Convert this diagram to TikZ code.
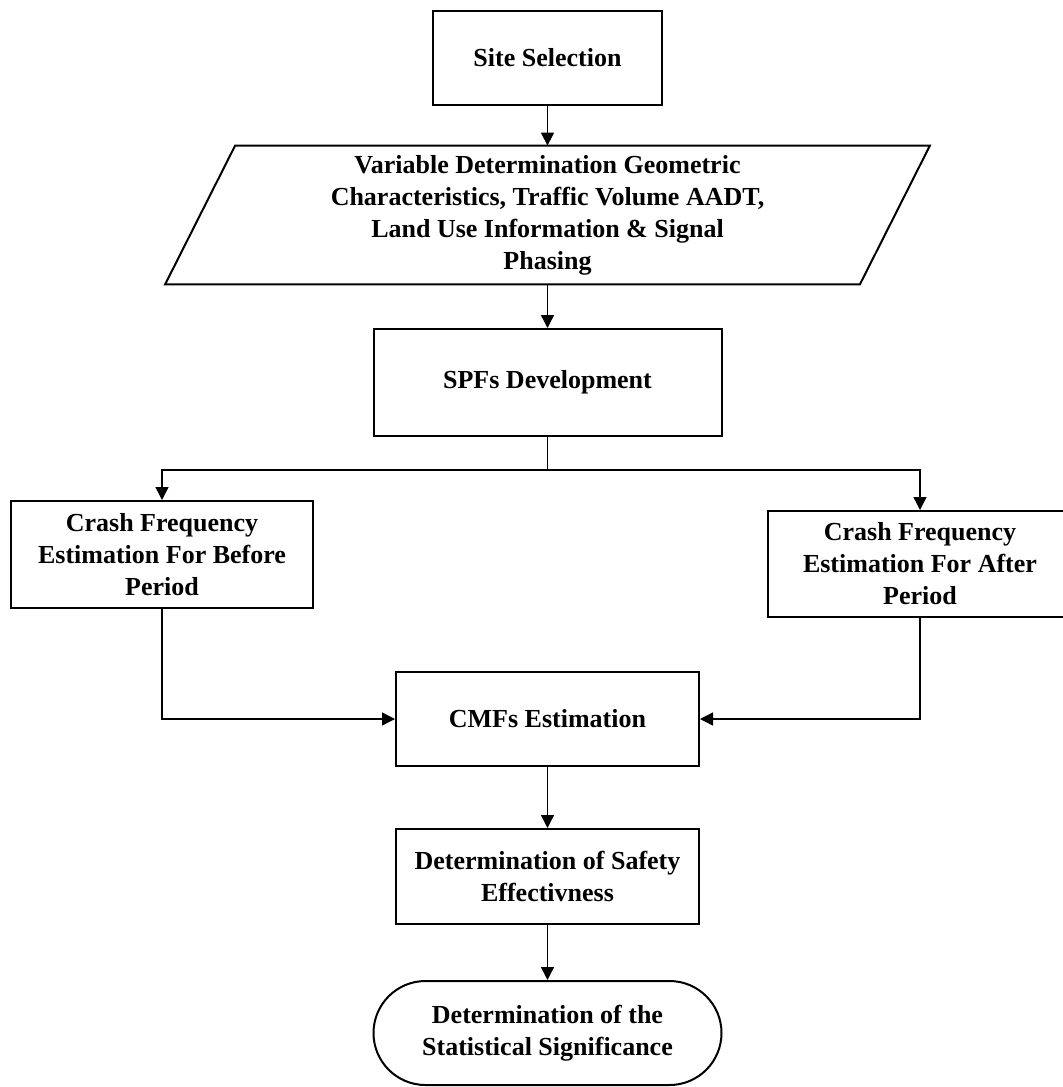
\documentclass[tikz,border=0pt]{standalone}
\usepackage{fontspec}
\setmainfont{Liberation Serif}
\usetikzlibrary{arrows.meta}
\tikzset{
  boxtext/.style={align=center, inner sep=0pt, font=\fontsize{13}{16}\selectfont\bfseries},
  process/.style={boxtext, draw, line width=1pt},
  flow/.style={-{Triangle[length=6.5pt,width=6.5pt]}, line width=0.7pt}
}

\begin{document}
\begin{tikzpicture}[x=0.5pt, y=-0.5pt]
  \useasboundingbox (0,0) rectangle (1062,1087);

  % Site selection
  \node[process, minimum width=114.5pt, minimum height=47pt] (site) at (547.5,58) {Site Selection};

  % Variables (parallelogram)
  \node[boxtext, minimum width=347pt, minimum height=69pt] (vardet) at (547.5,215)
    {Variable Determination Geometric\\Characteristics, Traffic Volume AADT,\\Land Use Information \& Signal\\Phasing};
  \draw[line width=1pt] ([xshift=17.5pt]vardet.north west) -- ([xshift=17.5pt]vardet.north east)
    -- ([xshift=-17.5pt]vardet.south east) -- ([xshift=-17.5pt]vardet.south west) -- cycle;

  % SPFs
  \node[process, minimum width=174pt, minimum height=53.5pt] (spf) at (547.5,382.5) {SPFs Development};

  % Crash frequency, before and after
  \node[process, minimum width=151pt, minimum height=53.5pt] (before) at (162,554.5)
    {Crash Frequency\\Estimation For Before\\Period};
  \node[process, minimum width=152pt, minimum height=53pt] (after) at (920,564)
    {Crash Frequency\\Estimation For After\\Period};

  % CMFs and safety
  \node[process, minimum width=151.5pt, minimum height=47pt] (cmf) at (547.5,719) {CMFs Estimation};
  \node[process, minimum width=151.5pt, minimum height=47.5pt] (safety) at (547.5,876.5)
    {Determination of Safety\\Effectivness};

  % Terminal
  \node[process, rounded corners=26pt, minimum width=174pt, minimum height=52pt] (signif) at (547.5,1033)
    {Determination of the\\Statistical Significance};

  % Connectors
  \coordinate (split) at (547.5,470);
  \draw[flow] (site.south) -- (vardet.north);
  \draw[flow] (vardet.south) -- (spf.north);
  \draw[line width=0.7pt] (spf.south) -- (split);
  \draw[flow] (split) -| (before.north);
  \draw[flow] (split) -| (after.north);
  \draw[flow] (before.south) |- (cmf.west);
  \draw[flow] (after.south) |- (cmf.east);
  \draw[flow] (cmf.south) -- (safety.north);
  \draw[flow] (safety.south) -- (signif.north);
\end{tikzpicture}
\end{document}
